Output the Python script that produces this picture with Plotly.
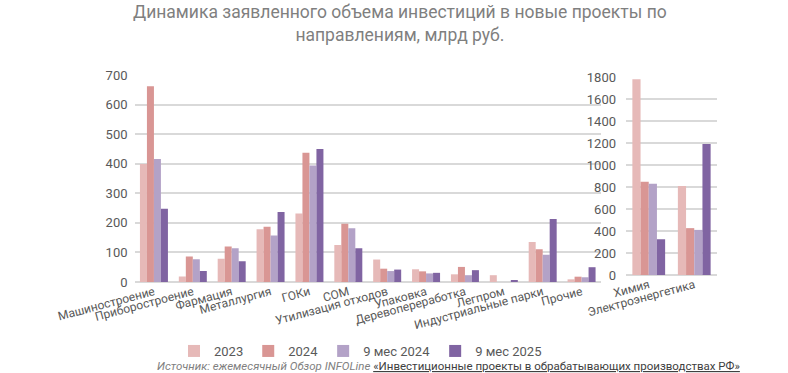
import plotly.graph_objects as go

categories_left = ["Машиностроение", "Приборостроение", "Фармация", "Металлургия", "ГОКи", "СОМ",
                   "Утилизация отходов", "Упаковка", "Деревопереработка", "Легпром",
                   "Индустриальные парки", "Прочие"]
categories_right = ["Химия", "Электроэнергетика"]

series_names = ["2023", "2024", "9 мес 2024", "9 мес 2025"]
colors = ["#E6B9B8", "#D99694", "#B3A2C7", "#8064A2"]

left_2023 = [399, 19, 79, 178, 232, 125, 76, 43, 26, 23, 135, 9]
left_2024 = [662, 86, 120, 187, 437, 197, 45, 36, 51, 0, 111, 18]
left_9m2024 = [416, 77, 114, 157, 394, 182, 37, 29, 23, 0, 92, 16]
left_9m2025 = [248, 37, 70, 237, 450, 114, 42, 31, 40, 6, 213, 50]

right_2023 = [1780, 810]
right_2024 = [848, 426]
right_9m2024 = [830, 410]
right_9m2025 = [325, 1192]

left_series = [left_2023, left_2024, left_9m2024, left_9m2025]
right_series = [right_2023, right_2024, right_9m2024, right_9m2025]

W, H = 788, 373
FONT = "Roboto"
GRAY = "#595959"

fig = go.Figure()
for name, col, lv, rv in zip(series_names, colors, left_series, right_series):
    fig.add_trace(go.Bar(x=categories_left, y=lv, name=name, marker_color=col,
                         marker_line_width=0, xaxis="x", yaxis="y", legendgroup=name))
    fig.add_trace(go.Bar(x=categories_right, y=rv, name=name, marker_color=col,
                         marker_line_width=0, xaxis="x2", yaxis="y2", legendgroup=name,
                         showlegend=False))

def fx(px):
    return px / W

def fy(py):
    return 1 - py / H

axis_common = dict(showline=False, ticks="", automargin=False,
                   tickfont=dict(family=FONT, size=12, color=GRAY))
yaxis_common = dict(showgrid=True, gridcolor="#D9D9D9", gridwidth=1.5, zeroline=True,
                    zerolinecolor="#D9D9D9", zerolinewidth=1.5, automargin=False,
                    tickfont=dict(family=FONT, size=13, color=GRAY))

fig.update_layout(
    width=W, height=H,
    margin=dict(l=0, r=0, t=0, b=0, autoexpand=False),
    paper_bgcolor="white", plot_bgcolor="white",
    barmode="group", bargap=0.28, bargroupgap=0,
    font=dict(family=FONT, color=GRAY),
    xaxis=dict(domain=[fx(134.5), fx(601)], tickangle=-15, **axis_common),
    xaxis2=dict(domain=[fx(626), fx(717)], tickangle=-15, anchor="y2", **axis_common),
    yaxis=dict(domain=[fy(282), fy(75)], range=[0, 700], dtick=100, anchor="x",
               ticklabelstandoff=6, **yaxis_common),
    yaxis2=dict(domain=[fy(275), fy(77)], range=[0, 1800], dtick=200, anchor="x2",
                ticklabelstandoff=9, **yaxis_common),
    legend=dict(orientation="h", x=fx(174), xanchor="left", y=fy(351), yanchor="middle",
                font=dict(family=FONT, size=13, color=GRAY), bgcolor="rgba(0,0,0,0)",
                itemwidth=30, tracegroupgap=0),
)

fig.add_annotation(
    text="Динамика заявленного объема инвестиций в новые проекты по<br>направлениям, млрд руб.",
    xref="paper", yref="paper", x=fx(400), y=fy(0), xanchor="center", yanchor="top",
    showarrow=False, font=dict(family=FONT, size=17.5, color="#7F7F7F"),
)

fig.add_annotation(
    text="<i>Источник: ежемесячный Обзор INFOLine</i> "
         "<span style='color:#404040'><u>«Инвестиционные проекты в обрабатывающих производствах РФ»</u></span>",
    xref="paper", yref="paper", x=fx(448), y=fy(366), xanchor="center", yanchor="middle",
    showarrow=False, font=dict(family=FONT, size=11.5, color="#7F7F7F"),
)

fig.write_html("out.html", config={"displayModeBar": False},
               post_script="document.body.style.margin='0';")
